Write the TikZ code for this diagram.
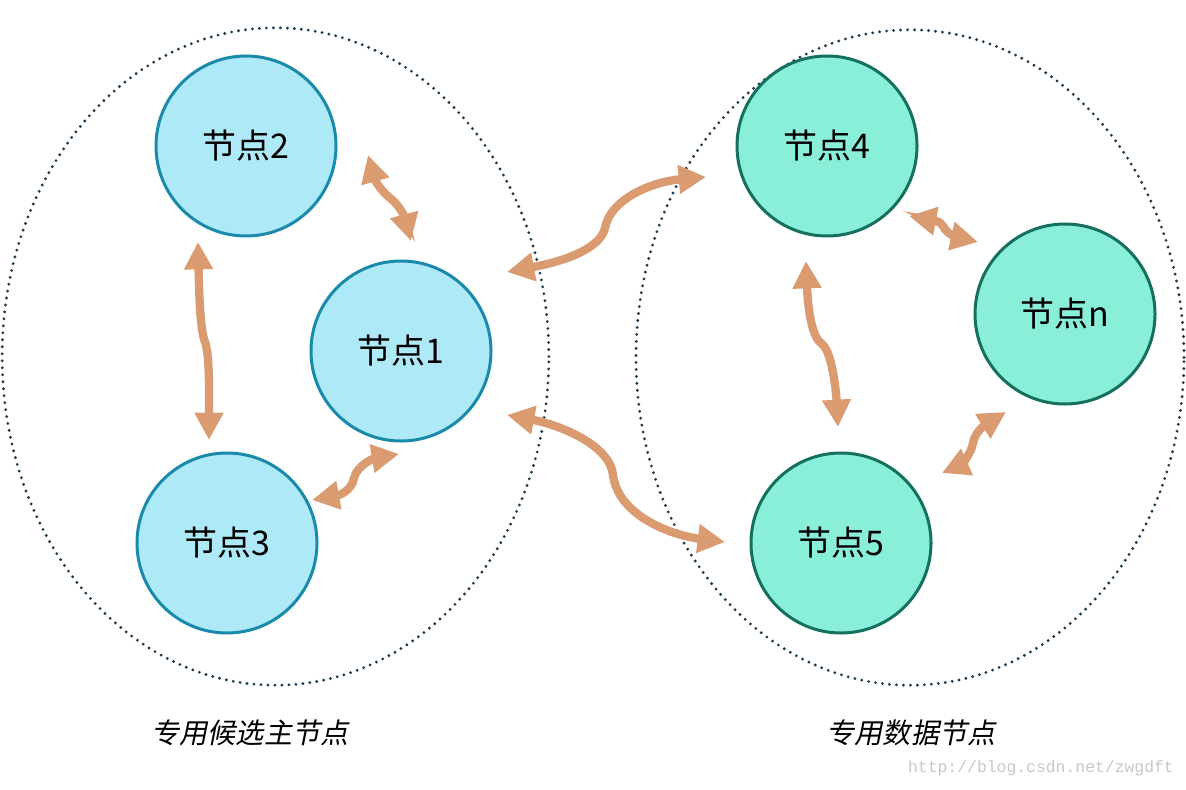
\documentclass[tikz,border=0pt]{standalone}
\usepackage{fontspec}
\setmainfont{Noto Sans CJK SC}
\newfontfamily\cjkslant[FakeSlant=0.2]{Noto Sans CJK SC}
\newfontfamily\wmfont{Liberation Mono}
\usetikzlibrary{arrows.meta}
\definecolor{lfill}{HTML}{AEE9F8}
\definecolor{ldraw}{HTML}{1A8AAA}
\definecolor{rfill}{HTML}{8AEFD9}
\definecolor{rdraw}{HTML}{167060}
\definecolor{arr}{HTML}{DA9B70}
\definecolor{dots}{HTML}{1E3A4C}
\tikzset{
  grp/.style={draw=dots, line width=0.095cm, dash pattern=on 0pt off 0.21cm, line cap=round},
  lnode/.style={circle, draw=ldraw, fill=lfill, line width=0.09cm, minimum size=5.4cm, inner sep=0pt, font=\fontsize{29}{30}\selectfont},
  rnode/.style={circle, draw=rdraw, fill=rfill, line width=0.09cm, minimum size=5.4cm, inner sep=0pt, font=\fontsize{29}{30}\selectfont},
  link/.style={draw=arr, line width=0.25cm, {Triangle[length=0.82cm,width=0.82cm]}-{Triangle[length=0.82cm,width=0.82cm]}},
  grplabel/.style={font=\cjkslant\fontsize{24}{26}\selectfont},
}
\begin{document}
\begin{tikzpicture}[x=0.03cm,y=-0.03cm]
\useasboundingbox (0,0) rectangle (1186,789);
% groups
\draw[grp] (275.5,356.5) ellipse [x radius=8.2cm, y radius=9.86cm];
\draw[grp] (910,357.5) ellipse [x radius=8.22cm, y radius=9.83cm];
% nodes
\node[lnode] (n2) at (246,146) {节点2};
\node[lnode] (n1) at (401,351) {节点1};
\node[lnode] (n3) at (227,543) {节点3};
\node[rnode] (n4) at (827,146) {节点4};
\node[rnode] (nn) at (1065,314) {节点n};
\node[rnode] (n5) at (841,543) {节点5};
% connector ends
\coordinate (a21) at (368,155); \coordinate (b21) at (411,241);
\coordinate (a14) at (507,272); \coordinate (b14) at (706,177);
\coordinate (a15) at (507,415); \coordinate (b15) at (725,542);
\coordinate (a31) at (312,500); \coordinate (b31) at (399,454);
\coordinate (a23) at (198,242); \coordinate (b23) at (209,440);
\coordinate (a4n) at (909,216); \coordinate (b4n) at (978,242);
\coordinate (a45) at (806,261); \coordinate (b45) at (838,427);
\coordinate (an5) at (1006,412); \coordinate (bn5) at (942,473);
% connectors
\draw[link] (a21) .. controls (375,180) and (380,190) .. (390,198) .. controls (402,207) and (406,222) .. (b21);
\draw[link] (a14) .. controls (560,262) and (600,250) .. (605,228) .. controls (610,200) and (650,182) .. (b14);
\draw[link] (a15) .. controls (560,425) and (610,445) .. (613,475) .. controls (618,515) and (670,535) .. (b15);
\draw[link] (a31) .. controls (340,495) and (352,490) .. (354,478) .. controls (357,465) and (375,458) .. (b31);
\draw[link] (a23) .. controls (199,290) and (200,330) .. (205,342) .. controls (210,355) and (209,400) .. (b23);
\draw[link] (a4n) .. controls (930,220) and (940,220) .. (943,226) .. controls (947,235) and (960,238) .. (b4n);
\draw[link] (a45) .. controls (808,310) and (812,338) .. (822,344) .. controls (832,352) and (836,390) .. (b45);
\draw[link] (an5) .. controls (985,425) and (975,432) .. (973,443) .. controls (971,455) and (960,465) .. (bn5);
% labels
\node[grplabel] (lab1) at (250,733) {专用候选主节点};
\node[grplabel] (lab2) at (911,733) {专用数据节点};
\node[font=\wmfont\fontsize{14}{15}\selectfont, text=black!22, anchor=east] (wm) at (1178,768) {http://blog.csdn.net/zwgdft};
\end{tikzpicture}
\end{document}
